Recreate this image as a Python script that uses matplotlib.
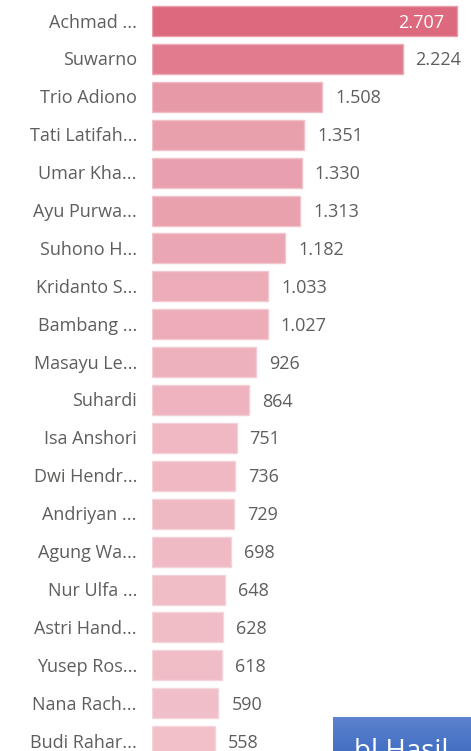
import numpy as np
import matplotlib
matplotlib.use("Agg")
import matplotlib.pyplot as plt
from matplotlib.colors import to_rgb

plt.rcParams['font.family'] = ['Open Sans', 'DejaVu Sans']

names = ["Achmad ...", "Suwarno", "Trio Adiono", "Tati Latifah...", "Umar Kha...",
         "Ayu Purwa...", "Suhono H...", "Kridanto S...", "Bambang ...", "Masayu Le...",
         "Suhardi", "Isa Anshori", "Dwi Hendr...", "Andriyan ...", "Agung Wa...",
         "Nur Ulfa ...", "Astri Hand...", "Yusep Ros...", "Nana Rach...", "Budi Rahar..."]
values = [2707, 2224, 1508, 1351, 1330, 1313, 1182, 1033, 1027, 926,
          864, 751, 736, 729, 698, 648, 628, 618, 590, 558]


def fmt(v):
    return f"{v:,}".replace(",", ".")


W, H = 471, 751
fig = plt.figure(figsize=(W / 100, H / 100), dpi=100)

left_px = 152
ax = fig.add_axes([left_px / W, 0, 1 - left_px / W, 1])
scale = 305 / 2707  # px per unit
ax.set_xlim(0, (W - left_px) / scale)
row_px, first_px = 37.9, 21
ax.set_ylim((H - first_px) / row_px, -first_px / row_px)
ax.axis("off")

dark = np.array(to_rgb("#DC697D"))
light = np.array([246, 214, 221]) / 255
vmax = max(values)

FS = 13
TXT = "#605E5C"
dy = 1.5 / row_px  # nudge text down slightly
for i, v in enumerate(values):
    t = v / vmax
    c = light + t * (dark - light)
    edge = c + 0.35 * (1 - c)
    ax.barh(i, v, height=30 / row_px, color=c, edgecolor=edge, linewidth=1.0)
    if i == 0:
        ax.text(v - 13 / scale, i + dy, fmt(v), ha="right", va="center",
                fontsize=FS, color="white")
    else:
        ax.text(v + 13 / scale, i + dy, fmt(v), ha="left", va="center",
                fontsize=FS, color=TXT)
    fig.text((left_px - 15) / W, 1 - (first_px + row_px * i + 1.5) / H, names[i],
             ha="right", va="center", fontsize=FS, color=TXT)

# button partly visible at the bottom right
btn = fig.add_axes([333 / W, 0, 1 - 333 / W, (H - 717) / H])
grad = np.linspace(0, 1, 50)[:, None]
c_top = np.array(to_rgb("#5C82CE"))
c_bot = np.array(to_rgb("#4470C4"))
img = c_top[None, None, :] * (1 - grad[:, :, None]) + c_bot[None, None, :] * grad[:, :, None]
btn.imshow(img, aspect="auto", extent=[0, 1, 0, 1])
btn.set_xlim(0, 1)
btn.set_ylim(0, 1)
btn.axis("off")
btn.text(0.15, 0.38, "bl Hasil", ha="left", va="top", fontsize=20,
         color="white", transform=btn.transAxes, clip_on=True)

fig.savefig("out.png", dpi=100, facecolor="white")
